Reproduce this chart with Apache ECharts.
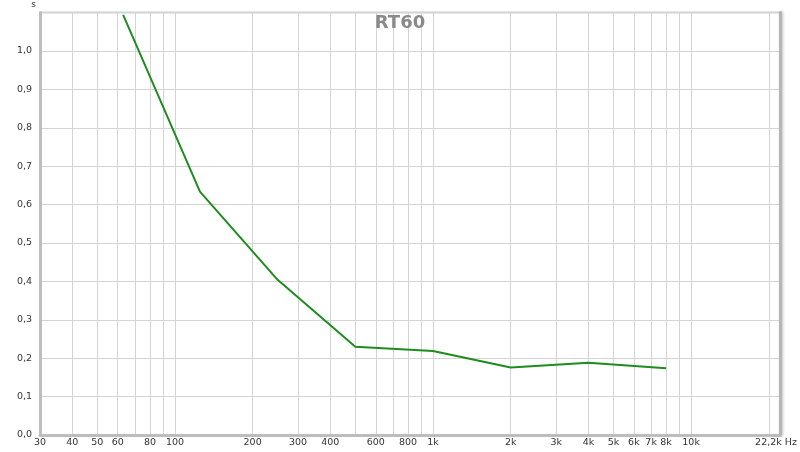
<!DOCTYPE html>
<html>
<head>
<meta charset="utf-8">
<script src="https://cdn.jsdelivr.net/npm/echarts@6/dist/echarts.min.js"></script>
<style>
  html, body { margin: 0; padding: 0; background: #fff; }
  #chart { width: 800px; height: 452px; }
</style>
</head>
<body>
<div id="chart"></div>
<script>
// octave band centres (Hz) and measured RT60 (s)
const freqs = [63, 125, 250, 500, 1000, 2000, 4000, 8000]
const rt60 = [1.094, 0.634, 0.404, 0.230, 0.219, 0.176, 0.188, 0.174]

// vertical grid lines and labelled ticks on the frequency axis
const gridFreqs = [40, 50, 60, 70, 80, 90, 100, 200, 300, 400, 500, 600, 700, 800, 900,
  1000, 2000, 3000, 4000, 5000, 6000, 7000, 8000, 9000, 10000, 20000]
const labelFreqs = [30, 40, 50, 60, 80, 100, 200, 300, 400, 600, 800,
  1000, 2000, 3000, 4000, 5000, 6000, 7000, 8000, 10000, 22200]
const labelTexts = ['30', '40', '50', '60', '80', '100', '200', '300', '400', '600', '800',
  '1k', '2k', '3k', '4k', '5k', '6k', '7k', '8k', '10k', '22,2k Hz']

const chart = echarts.init(document.getElementById('chart'))

const font = 'DejaVu Sans'
const txt = { color: '#333', fontFamily: font, fontSize: 9.5 }

chart.setOption({
  animation: false,
  title: {
    text: 'RT60',
    left: 'center',
    top: 9,
    textStyle: { color: '#8a8a8a', fontFamily: font, fontSize: 18, fontWeight: 'bold' }
  },
  grid: {
    left: 40,
    right: 19.5,
    top: 12.6,
    bottom: 17,
    outerBoundsMode: 'none',
    containLabel: false,
    show: true,
    borderColor: '#cfcfcf',
    borderWidth: 2
  },
  xAxis: {
    type: 'log',
    logBase: 10,
    min: 30,
    max: 22200,
    axisLine: { show: true, onZero: false, lineStyle: { color: '#bdbdbd', width: 3 } },
    axisTick: { show: false, customValues: gridFreqs },
    splitLine: { show: true, lineStyle: { color: '#d4d4d4', width: 1 } },
    minorSplitLine: { show: false },
    axisLabel: {
      customValues: labelFreqs,
      margin: 3,
      ...txt,
      rich: { last: { ...txt, padding: [0, 9, 0, 0] } },
      formatter: v => {
        const i = labelFreqs.findIndex(f => Math.abs(f - v) / f < 1e-6)
        if (i < 0) return ''
        return i === labelFreqs.length - 1 ? '{last|' + labelTexts[i] + '}' : labelTexts[i]
      }
    }
  },
  yAxis: [{
    type: 'value',
    min: 0,
    max: 1.1,
    interval: 0.1,
    name: 's',
    nameLocation: 'end',
    nameGap: 3,
    nameTextStyle: { ...txt, fontSize: 9, align: 'right', padding: [0, 4, 0, 0] },
    axisLine: { show: true, lineStyle: { color: '#bdbdbd', width: 3 } },
    axisTick: { show: false },
    splitLine: { lineStyle: { color: '#d4d4d4', width: 1 } },
    axisLabel: {
      ...txt,
      margin: 8,
      formatter: v => v > 1.05 ? '' : v.toFixed(1).replace('.', ',')
    }
  }, {
    type: 'value',
    position: 'right',
    min: 0,
    max: 1.1,
    axisLine: { show: true, lineStyle: { color: '#b5b5b5', width: 3, shadowColor: 'rgba(0,0,0,0.25)', shadowBlur: 3, shadowOffsetX: 1 } },
    axisTick: { show: false },
    axisLabel: { show: false },
    splitLine: { show: false }
  }],
  series: [{
    type: 'line',
    data: freqs.map((f, i) => [f, rt60[i]]),
    symbol: 'none',
    lineStyle: { color: '#1f8c1f', width: 2 },
    itemStyle: { color: '#1f8c1f' }
  }]
})
</script>
</body>
</html>
